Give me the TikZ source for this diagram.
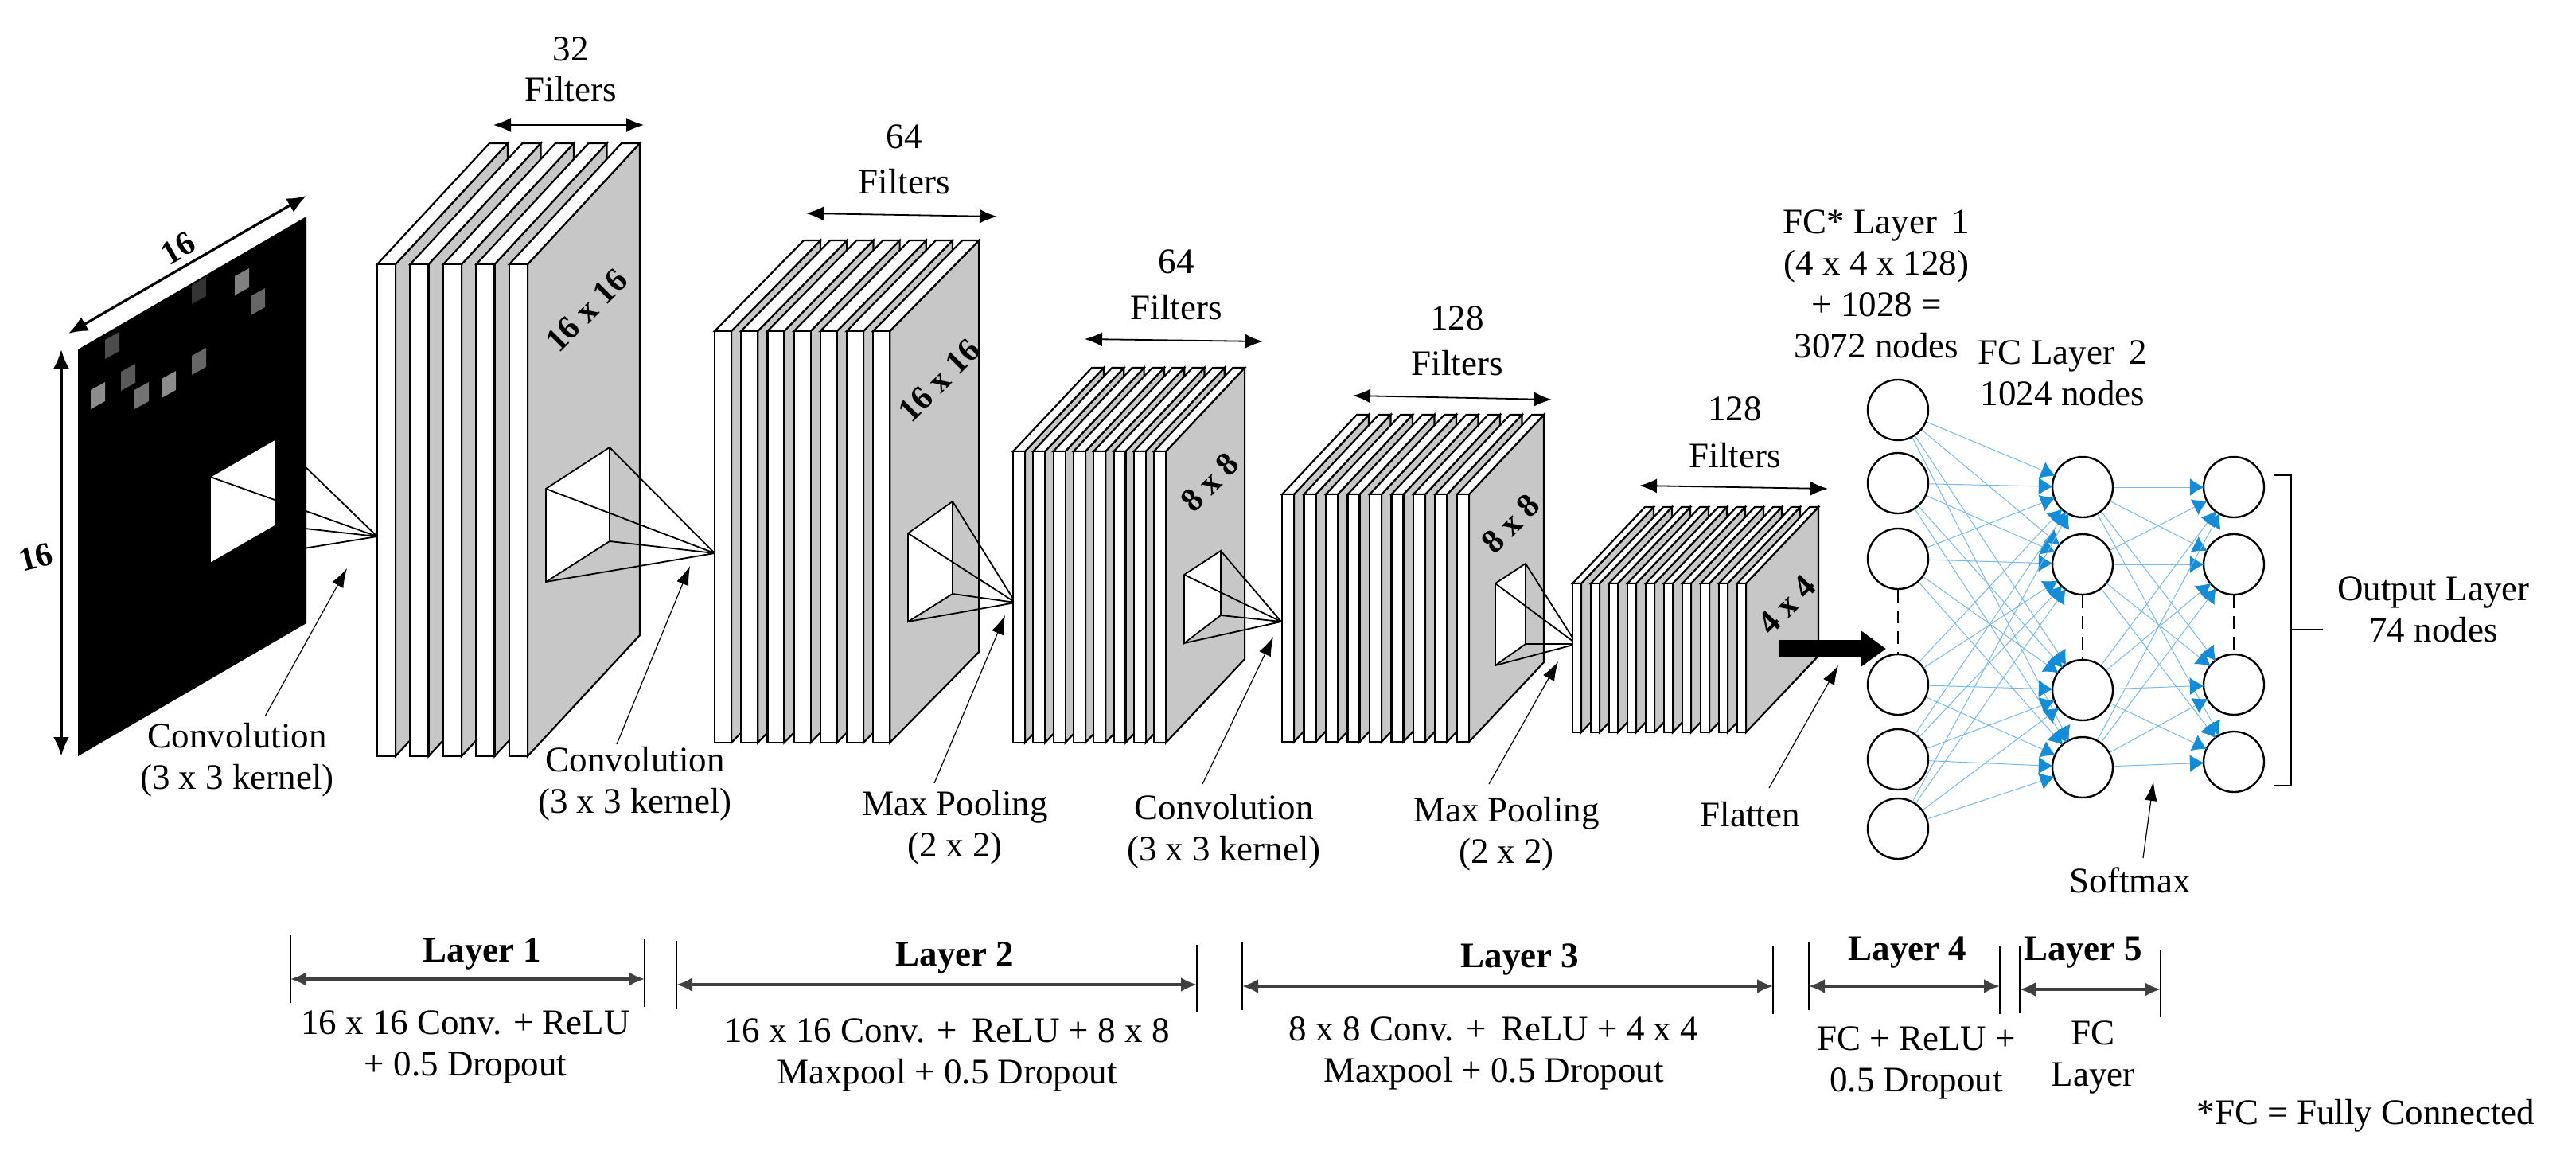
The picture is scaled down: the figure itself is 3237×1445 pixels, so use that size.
\documentclass[tikz,border=0pt]{standalone}
\usepackage{fontspec}
\setmainfont{Liberation Serif}
\usetikzlibrary{arrows.meta}
\definecolor{edgeblue}{RGB}{120,185,235}
\definecolor{tipblue}{RGB}{20,140,215}
\begin{document}
\begin{tikzpicture}[x=0.5pt,y=-0.5pt,
  txt/.style={font=\fontsize{22.5}{26}\selectfont,align=center,inner sep=0},
  btxt/.style={font=\fontsize{22.5}{26}\selectfont\bfseries,align=center,inner sep=0},
  lbl/.style={font=\fontsize{21}{24}\selectfont\bfseries,inner sep=0},
  edge/.style={line width=1.1pt},
  ptr/.style={line width=0.6pt,-{Latex[length=12pt,width=8pt]}},
  farr/.style={line width=0.9pt,{Latex[length=11pt,width=9pt]}-{Latex[length=11pt,width=9pt]}},
  larr/.style={line width=1.6pt,black!75,{Latex[length=10pt,width=9pt]}-{Latex[length=10pt,width=9pt]}},
  tick/.style={line width=0.8pt},
  neuron/.style={circle,draw,line width=1.2pt,minimum size=38pt,inner sep=0},
  blueedge/.style={line width=0.5pt,color=edgeblue,-{Latex[length=9pt,width=11pt,color=tipblue]},shorten >=-1pt},
  kern/.style={line width=0.9pt}]
\useasboundingbox (0,0) rectangle (3237,1445);
\fill[white] (0,0) rectangle (3237,1445);

\newcommand{\mystack}[8]{% x0, top, bot, n, sp, w, dx, dy
  \foreach \i in {1,...,#4}{
    \pgfmathsetmacro{\xx}{#1+(\i-1)*#5}
    \filldraw[edge,fill=black!22] (\xx+#6,#2) -- (\xx+#6+#7,#2+#8) -- (\xx+#6+#7,#3+#8) -- (\xx+#6,#3) -- cycle;
    \filldraw[edge,fill=white] (\xx,#2) -- (\xx+#7,#2+#8) -- (\xx+#6+#7,#2+#8) -- (\xx+#6,#2) -- cycle;
    \filldraw[edge,fill=white] (\xx,#2) rectangle (\xx+#6,#3);
  }}
\newcommand{\mykernel}[5]{%
  \filldraw[kern,fill=white] #1 -- #2 -- #3 -- #4 -- cycle;
  \draw[kern] #1 -- (#5) #2 -- (#5) #3 -- (#5) #4 -- (#5);}

% ---------- input image ----------
\fill[black] (98,439) -- (385,272) -- (385,783) -- (98,950) -- cycle;
\foreach \px/\py/\g in {141/433/70,123/496/45,161/473/65,178/496/55,212/482/45,250/453/60,250/364/80,304/353/50,324/378/60}{
  \fill[black!\g] (\px-9,\py-6) -- (\px+9,\py-16) -- (\px+9,\py+8) -- (\px-9,\py+18) -- cycle;}
\draw[line width=1.6pt,{Latex[length=12pt,width=10pt]}-{Latex[length=12pt,width=10pt]}] (86,419) -- (385,246);
\draw[line width=1.6pt,{Latex[length=12pt,width=10pt]}-{Latex[length=12pt,width=10pt]}] (77,439) -- (77,950);
\node[lbl,rotate=30] (s16a) at (224,312) {16};
\node[lbl,rotate=15] (s16b) at (45,700) {16};
\coordinate (ap0) at (474,674);
\mykernel{(264,599)}{(347,551)}{(347,660)}{(264,708)}{ap0}

% ---------- layer 1 stack ----------
\mystack{474}{332}{950}{5}{41.5}{23}{141}{-152}
\node[lbl,rotate=45] (f1) at (737,390) {16 x 16};
\coordinate (ap1) at (898,695);
\mykernel{(686,614)}{(766,562)}{(766,680)}{(686,731)}{ap1}
\draw[farr] (620,157) -- (809,157);
\node[txt] (t32) at (717,62) {32};
\node[txt] (tf32) at (717,112) {Filters};

% ---------- layer 2 stack ----------
\mystack{898}{416}{933}{7}{33.2}{21}{112}{-114}
\node[lbl,rotate=45] (f2) at (1180,478) {16 x 16};
\coordinate (ap2) at (1276,757);
\mykernel{(1141,670)}{(1197,630)}{(1197,746)}{(1141,781)}{ap2}
\draw[farr] (1013,268) -- (1253,272);
\node[txt] (t64a) at (1136,172) {64};
\node[txt] (tf64a) at (1136,228) {Filters};

% ---------- layer 3 stack ----------
\mystack{1273}{567}{933}{8}{25.3}{15}{99}{-105}
\node[lbl,rotate=45] (f3) at (1520,606) {8 x 8};
\coordinate (ap3) at (1610,781);
\mykernel{(1488,722)}{(1534,692)}{(1534,773)}{(1488,808)}{ap3}
\draw[farr] (1363,426) -- (1587,429);
\node[txt] (t64b) at (1478,329) {64};
\node[txt] (tf64b) at (1478,386) {Filters};

% ---------- layer 4 stack ----------
\mystack{1611}{621}{932}{9}{27.5}{15}{94}{-100}
\node[lbl,rotate=45] (f4) at (1898,658) {8 x 8};
\coordinate (ap4) at (1981,809);
\mykernel{(1879,733)}{(1917,708)}{(1917,809)}{(1879,836)}{ap4}
\draw[farr] (1700,497) -- (1950,502);
\node[txt] (t128a) at (1831,400) {128};
\node[txt] (tf128a) at (1831,456) {Filters};

% ---------- layer 5 stack ----------
\mystack{1976}{733}{920}{10}{23}{11}{91}{-96}
\node[lbl,rotate=45] (f5) at (2245,760) {4 x 4};
\draw[farr] (2060,610) -- (2297,614);
\node[txt] (t128b) at (2180,514) {128};
\node[txt] (tf128b) at (2180,572) {Filters};
\coordinate (fl0) at (2236,815);
\coordinate (fl1) at (2370,815);
\draw[line width=11pt,-{Triangle[length=16pt,width=22pt]}] (fl0) -- (fl1);

% ---------- pointer labels ----------
\node[txt] (c1) at (298,955) {Convolution\\(3 x 3 kernel)};
\node[txt] (c2) at (798,985) {Convolution\\(3 x 3 kernel)};
\node[txt] (m1) at (1200,1040) {Max Pooling\\(2 x 2)};
\node[txt] (c3) at (1538,1045) {Convolution\\(3 x 3 kernel)};
\node[txt] (m2) at (1893,1048) {Max Pooling\\(2 x 2)};
\node[txt] (fl) at (2199,1023) {Flatten};
\coordinate (p1) at (436,714); \coordinate (q1) at (333,900);
\coordinate (p2) at (867,711); \coordinate (q2) at (775,935);
\coordinate (p3) at (1263,773); \coordinate (q3) at (1174,984);
\coordinate (p4) at (1600,800); \coordinate (q4) at (1511,985);
\coordinate (p5) at (1958,831); \coordinate (q5) at (1871,985);
\coordinate (p6) at (2310,836); \coordinate (q6) at (2223,990);
\foreach \k in {1,...,6}{\draw[ptr] (q\k) -- (p\k);}

% ---------- fully connected part ----------
\foreach \n/\y in {1/515,2/607,3/702,4/860,5/954,6/1041}{\node[neuron] (a\n) at (2385,\y) {};}
\foreach \n/\y in {1/612,2/709,3/867,4/964}{\node[neuron] (b\n) at (2617,\y) {};}
\foreach \n/\y in {1/612,2/709,3/860,4/957}{\node[neuron] (c\n) at (2807,\y) {};}
\foreach \i in {1,...,6}{\foreach \j in {1,...,4}{\draw[blueedge] (a\i) -- (b\j);}}
\foreach \i in {1,...,4}{\foreach \j in {1,...,4}{\draw[blueedge] (b\i) -- (c\j);}}
\draw[line width=1.3pt,dash pattern=on 8pt off 5pt] (a3) -- (a4);
\draw[line width=1.3pt,dash pattern=on 8pt off 5pt] (b2) -- (b3);
\draw[line width=1.3pt,dash pattern=on 8pt off 5pt] (c2) -- (c3);
\node[txt] (fc1) at (2358,357) {FC* Layer\, 1\\(4 x 4 x 128)\\+ 1028 =\\3072 nodes};
\node[txt] (fc2) at (2592,469) {FC Layer\, 2\\1024 nodes};
\coordinate (br1) at (2858,597); \coordinate (br2) at (2879,597);
\coordinate (br3) at (2879,987); \coordinate (br4) at (2858,987);
\coordinate (br5) at (2879,791); \coordinate (br6) at (2919,791);
\draw[line width=1.1pt] (br1) -- (br2) -- (br3) -- (br4);
\draw[line width=1.1pt] (br5) -- (br6);
\node[txt] (out) at (3058,766) {Output Layer\\74 nodes};
\node[txt] (sm) at (2677,1106) {Softmax};
\coordinate (smt) at (2693,1078); \coordinate (smh) at (2706,982);
\draw[ptr] (smt) -- (smh);

% ---------- bottom layer brackets ----------
\newcommand{\mylayer}[3]{%
  \draw[tick] (#1,#3-55) -- (#1,#3+30);
  \draw[tick] (#2,#3-50) -- (#2,#3+35);
  \draw[larr] (#1,#3) -- (#2,#3);}
\mylayer{365}{810}{1230}
\mylayer{850}{1504}{1237}
\mylayer{1561}{2228}{1239}
\mylayer{2273}{2513}{1239}
\mylayer{2538}{2715}{1243}
\node[btxt] (L1) at (606,1198) {Layer 1};
\node[btxt] (L2) at (1200,1203) {Layer 2};
\node[btxt] (L3) at (1910,1205) {Layer 3};
\node[btxt] (L4) at (2397,1197) {Layer 4};
\node[btxt] (L5) at (2618,1197) {Layer 5};
\node[txt] (D1) at (585,1315) {16 x 16 Conv. + ReLU\\+ 0.5 Dropout};
\node[txt] (D2) at (1190,1325) {16 x 16 Conv. +\, ReLU + 8 x 8\\Maxpool + 0.5 Dropout};
\node[txt] (D3) at (1877,1323) {8 x 8 Conv. +\, ReLU + 4 x 4\\Maxpool + 0.5 Dropout};
\node[txt] (D4) at (2408,1335) {FC + ReLU +\\0.5 Dropout};
\node[txt] (D5) at (2630,1328) {FC\\Layer};
\node[txt] (fcn) at (2973,1402) {*FC = Fully Connected};
\end{tikzpicture}
\end{document}
